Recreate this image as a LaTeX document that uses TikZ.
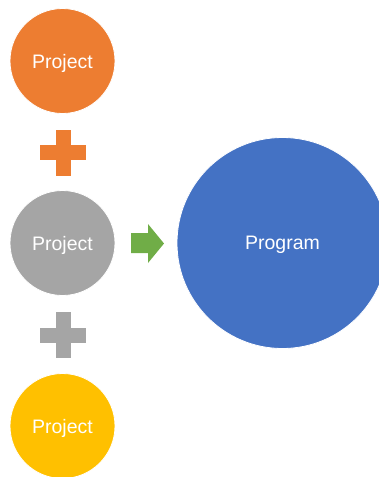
\documentclass[tikz,border=0pt]{standalone}
\usepackage{fontspec}
\setmainfont{Liberation Sans}
\usepackage{tikz}
\usetikzlibrary{positioning,calc}
\definecolor{projorange}{HTML}{ED7D31}
\definecolor{projgray}{HTML}{A5A5A5}
\definecolor{projyellow}{HTML}{FFC000}
\definecolor{progblue}{HTML}{4472C4}
\definecolor{arrowgreen}{HTML}{70AD47}
\tikzset{
  proj/.style={circle, draw=white, line width=0.8pt, minimum size=105pt,
    inner sep=0pt, text=white, text depth=0pt, font=\fontsize{19.5}{22}\selectfont},
  prog/.style={proj, minimum size=211pt}
}
% plus sign: centre, colour
\newcommand{\plussign}[2]{%
  \fill[#2] ($(#1)+(-23,-7.5)$) rectangle ($(#1)+(23,7.5)$);
  \fill[#2] ($(#1)+(-7.5,-23)$) rectangle ($(#1)+(7.5,23)$);
}

\begin{document}
\begin{tikzpicture}[x=1pt, y=-1pt]
        \useasboundingbox (0,0) rectangle (379,477);
        % Projects
        \node[proj, fill=projorange] (p1) at (62.5,61) {Project};
        \node[proj, fill=projgray] (p2) at (62.5,243) {Project};
        \node[proj, fill=projyellow] (p3) at (62.5,426) {Project};
        % Plus signs between projects
        \coordinate (plus1) at (63,152.5);
        \coordinate (plus2) at (63,335);
        \plussign{plus1}{projorange}
        \plussign{plus2}{projgray}
        % Arrow to program
        \fill[arrowgreen] (131,233) -- (148,233) -- (148,224) -- (164,243.5)
            -- (148,263) -- (148,253) -- (131,253) -- cycle;
        % Program
        \node[prog, fill=progblue] (prog) at (282.5,243) {Program};
    \end{tikzpicture}
\end{document}
